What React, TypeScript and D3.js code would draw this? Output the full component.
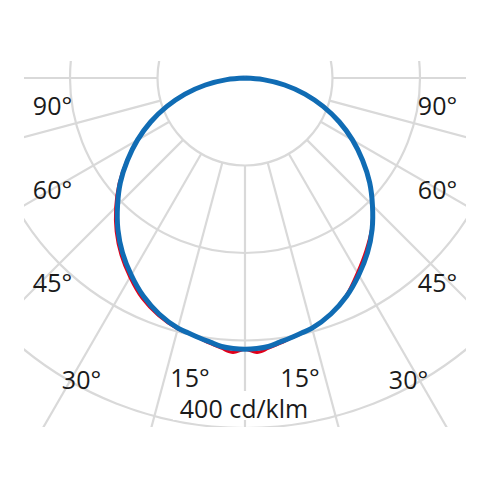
import React from "react";
import * as d3 from "d3";

// Angles (degrees from nadir; negative = left half)
const angles = [
  -90, -85, -80, -75, -70, -65, -60, -55, -50, -45, -40, -35, -30, -25, -20, -15, -12.5, -10, -7.5, -5, -2.5,
  0, 2.5, 5, 7.5, 10, 12.5, 15, 20, 25, 30, 35, 40, 45, 50, 55, 60, 65, 70, 75, 80, 85, 90,
];
// Luminous intensity, cd/klm (blue = C0-C180 plane, red = C90-C270 plane)
const blueValues = [
  0, 21, 46, 71, 95, 119, 142, 164, 186, 206, 226, 244, 260, 275, 287, 296, 298.5, 301.5, 304.5, 308, 309.5,
  310, 309.5, 308, 304.5, 301.5, 298.5, 296, 287, 275, 260, 244, 226, 206, 186, 164, 142, 119, 95, 71, 46, 21, 0,
];
const redValues = [
  0, 21, 46, 71, 95, 119, 142, 165, 188, 209, 229, 247, 263, 278, 289, 297, 299, 302, 306, 310, 314,
  310, 314, 310, 306, 302, 299, 296, 287, 274, 257, 241, 225, 206, 186, 164, 142, 119, 95, 71, 46, 21, 0,
];
const ringValues = [100, 200, 300, 400];
const spokeAngles = [-90, -75, -60, -45, -30, -15, 0, 15, 30, 45, 60, 75, 90];
const angleLabels = ["90°", "60°", "45°", "30°", "15°"];
const unitLabel = "400 cd/klm";

// layout
const W = 490;
const H = 490;
const cx = 245;
const cy = 78;
const labelPos = [
  { x: 52.5, y: 115 },
  { x: 52.5, y: 199 },
  { x: 52.5, y: 292 },
  { x: 81.5, y: 389 },
  { x: 190, y: 387 },
];

export default function App() {
  const r = d3.scaleLinear().domain([0, 400]).range([0, 350]);
  const toRad = (deg: number) => (deg * Math.PI) / 180;

  const line = (vals: number[]) =>
    d3
      .lineRadial<number>()
      .angle((_, i) => Math.PI - toRad(angles[i]))
      .radius((v) => r(v))
      .curve(d3.curveCatmullRom.alpha(0.5))(vals) as string;

  const inner = r(ringValues[0]);
  const gridColor = "#d9d9d9";
  const font = "'Open Sans', 'Noto Sans', sans-serif";

  return (
    <svg
      width={W}
      height={H}
      style={{ position: "absolute", left: 0, top: 0, background: "#fff" }}
    >
      <defs>
        <clipPath id="gridClip">
          <rect x={24} y={61} width={442} height={366} />
        </clipPath>
      </defs>
      <g clipPath="url(#gridClip)" fill="none" stroke={gridColor} strokeWidth={2.2}>
        {ringValues.map((v) => (
          <circle key={v} cx={cx} cy={cy} r={r(v)} />
        ))}
        {spokeAngles.map((a) => {
          const t = toRad(a);
          return (
            <line
              key={a}
              x1={cx + inner * Math.sin(t)}
              y1={cy + inner * Math.cos(t)}
              x2={cx + 700 * Math.sin(t)}
              y2={cy + 700 * Math.cos(t)}
            />
          );
        })}
      </g>
      <rect x={173} y={391} width={143} height={29} fill="#fff" />
      <g transform={`translate(${cx},${cy})`} fill="none" strokeLinejoin="round">
        <path d={line(redValues)} stroke="#e2001a" strokeWidth={3} />
        <path d={line(blueValues)} stroke="#106cb4" strokeWidth={5} />
      </g>
      <g fontFamily={font} fontSize={25} fill="#1a1a1a" textAnchor="middle">
        {angleLabels.map((l, i) => (
          <React.Fragment key={l}>
            <text x={labelPos[i].x} y={labelPos[i].y}>
              {l}
            </text>
            <text x={W - labelPos[i].x} y={labelPos[i].y}>
              {l}
            </text>
          </React.Fragment>
        ))}
        <text x={244} y={418}>
          {unitLabel}
        </text>
      </g>
    </svg>
  );
}
